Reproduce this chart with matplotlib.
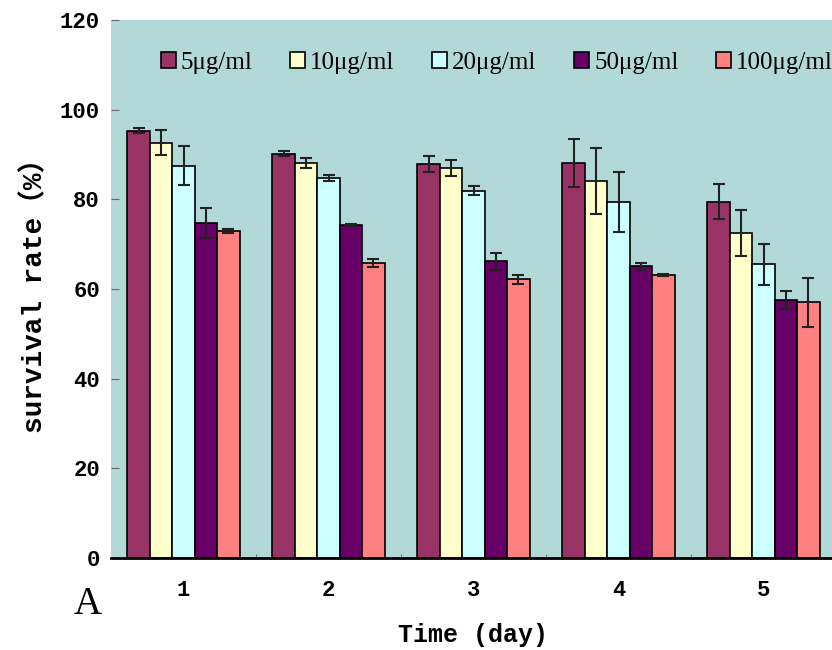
import numpy as np
import matplotlib.pyplot as plt

# survival rate (%) per day for each concentration
days = [1, 2, 3, 4, 5]
labels = ["5μg/ml", "10μg/ml", "20μg/ml", "50μg/ml", "100μg/ml"]
rate_5 = [95.3, 90.2, 87.9, 88.1, 79.5]
rate_10 = [92.6, 88.1, 87.0, 84.1, 72.5]
rate_20 = [87.5, 84.8, 81.9, 79.4, 65.5]
rate_50 = [74.7, 74.3, 66.2, 65.1, 57.5]
rate_100 = [72.9, 65.8, 62.2, 63.1, 57.0]
err_5 = [0.6, 0.5, 1.7, 5.3, 3.9]
err_10 = [2.8, 1.1, 1.7, 7.3, 5.1]
err_20 = [4.3, 0.6, 1.0, 6.6, 4.5]
err_50 = [3.4, 0.3, 1.9, 0.8, 2.0]
err_100 = [0.4, 0.9, 1.0, 0.2, 5.5]

colors = ["#993366", "#ffffcc", "#ccffff", "#660066", "#ff8080"]
series = [rate_5, rate_10, rate_20, rate_50, rate_100]
errs = [err_5, err_10, err_20, err_50, err_100]

fig = plt.figure(figsize=(8.32, 6.5), dpi=100)
ax = fig.add_axes([111 / 832, 92 / 650, 725 / 832, 538 / 650])
ax.set_facecolor("#b2d8d8")

x = np.array(days, dtype=float)
w = 0.155
for i in range(5):
    pos = x + (i - 2) * w
    ax.bar(pos, series[i], w, color=colors[i], edgecolor="black", linewidth=1.2,
           label=labels[i], zorder=2)
    ax.errorbar(pos, series[i], yerr=errs[i], fmt="none", ecolor="#222222",
                elinewidth=1.5, capsize=4, capthick=1.5, zorder=3)

ax.set_xlim(0.5, 5.5)
ax.set_ylim(0, 120)
ax.set_yticks([0, 20, 40, 60, 80, 100, 120])
ax.set_xticks(days)
ax.set_xticks([1.5, 2.5, 3.5, 4.5], minor=True)
ax.tick_params(axis="x", which="major", length=0, pad=16)
ax.tick_params(axis="x", which="minor", direction="in", length=3, color="#555555")
ax.tick_params(axis="y", direction="in", length=6, color="#666666", pad=8)
for lab in ax.get_xticklabels() + ax.get_yticklabels():
    lab.set_fontfamily("Liberation Mono")
    lab.set_fontweight("bold")
    lab.set_fontsize(16)

for s in ["top", "right", "left"]:
    ax.spines[s].set_visible(False)
ax.spines["bottom"].set_linewidth(2)

ax.set_ylabel("survival rate（%）", family=["Liberation Mono", "Noto Sans CJK SC"],
              fontweight="bold", fontsize=20, labelpad=8)
ax.set_xlabel("Time (day)", family="Liberation Mono", fontweight="bold",
              fontsize=18, labelpad=16)

leg = ax.legend(loc="upper left", bbox_to_anchor=(0.055, 0.96), ncol=5,
                frameon=False, prop={"family": "Liberation Serif", "size": 18},
                handlelength=0.6, handleheight=0.6, handletextpad=0.2,
                columnspacing=1.5, borderaxespad=0)

fig.text(88 / 832, 45 / 650, "A", family="Liberation Serif", fontsize=28,
         ha="center", va="center")

fig.savefig("out.png", dpi=100)
